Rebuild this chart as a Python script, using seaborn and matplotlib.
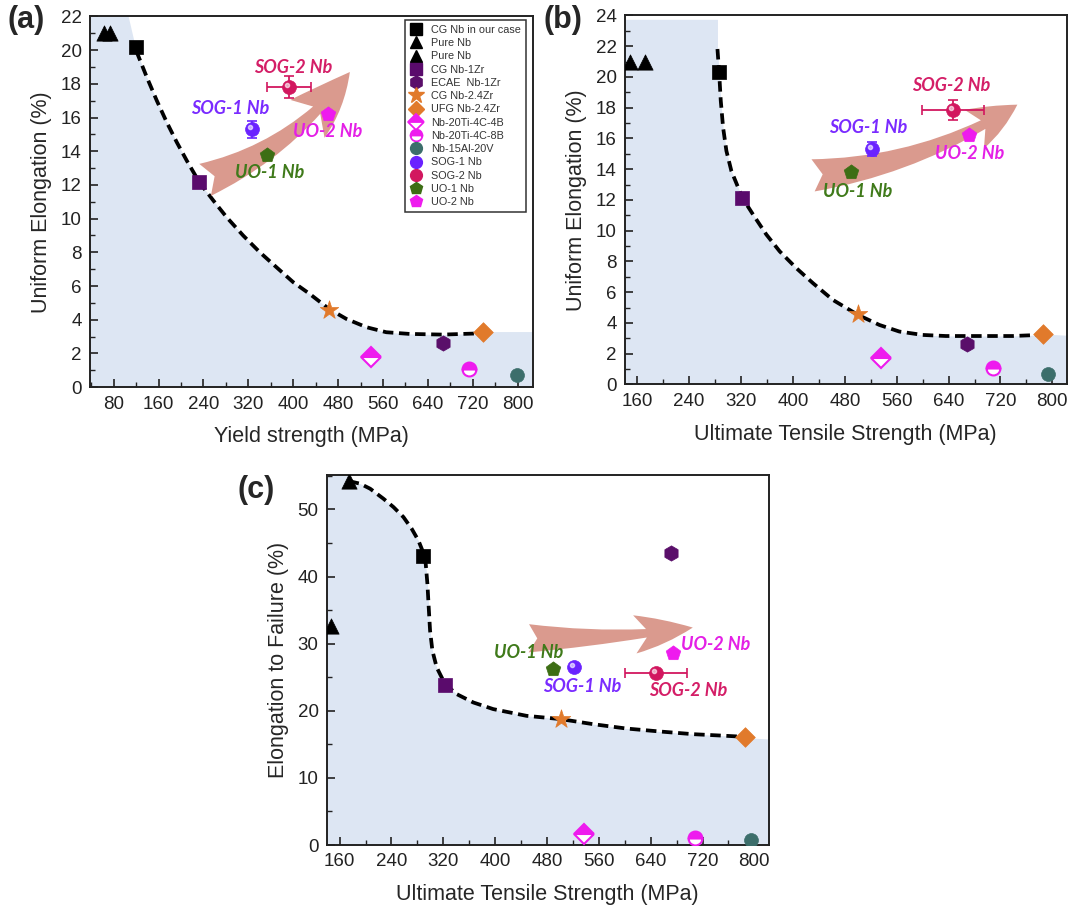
import numpy as np
import pandas as pd
import matplotlib
matplotlib.use("Agg")
import matplotlib.pyplot as plt
import seaborn as sns
from matplotlib.lines import Line2D
from matplotlib.ticker import MultipleLocator
from matplotlib.transforms import offset_copy

# ---------------------------------------------------------------- data
materials = ["CG Nb in our case", "Pure Nb", "Pure Nb", "CG Nb-1Zr", "ECAE  Nb-1Zr",
             "CG Nb-2.4Zr", "UFG Nb-2.4Zr", "Nb-20Ti-4C-4B", "Nb-20Ti-4C-8B",
             "Nb-15Al-20V", "SOG-1 Nb", "SOG-2 Nb", "UO-1 Nb", "UO-2 Nb"]

# (a) yield strength vs uniform elongation
ys_a = [120, 62, 74, 233, 667, 464, 739, 539, 713, 798, 326, 393, 353, 462]
ue_a = [20.2, 21.0, 21.0, 12.15, 2.6, 4.6, 3.3, 1.8, 1.1, 0.73, 15.3, 17.8, 13.8, 16.2]

# (b) ultimate tensile strength vs uniform elongation
uts_b = [286, 148, 172, 322, 669, 500, 785, 536, 708, 794, 522, 647, 490, 672]
ue_b = [20.3, 21.0, 21.0, 12.15, 2.6, 4.55, 3.3, 1.75, 1.05, 0.65, 15.3, 17.85, 13.8, 16.2]

# (c) ultimate tensile strength vs elongation to failure
uts_c = [288, 147, 174, 323, 672, 501, 785, 537, 709, 795, 522, 648, 489, 674]
ef_c = [43.0, 32.6, 54.2, 23.8, 43.5, 18.8, 16.1, 1.6, 1.1, 0.7, 26.5, 25.6, 26.2, 28.6]

# error bars of the SOG samples: (xerr, yerr)
err_a = {"SOG-1 Nb": (0, 0.5), "SOG-2 Nb": (39, 0.65)}
err_b = {"SOG-1 Nb": (0, 0.45), "SOG-2 Nb": (48, 0.65)}
err_c = {"SOG-2 Nb": (48, 0.0)}

# strength-ductility trade-off guide lines
trend_a_x = [120.3, 139.3, 157, 174.8, 192.6, 210.4, 232.9, 257.8, 281.5, 311.1, 340.7,
             370.4, 400, 429.6, 464, 494.8, 530.4, 565.9, 607.4, 666.7, 739]
trend_a_y = [19.96, 18.38, 17.0, 15.71, 14.53, 13.44, 12.15, 11.07, 10.08, 8.99, 8.0,
             7.11, 6.23, 5.53, 4.64, 4.05, 3.56, 3.26, 3.16, 3.12, 3.2]
trend_b_x = [283.6, 286.2, 288.7, 292.3, 297.4, 305.1, 322.0, 338.5, 359.0, 379.5, 405.1,
             430.8, 461.5, 500.0, 533.3, 564.1, 600, 635.9, 687.2, 738.5, 779.5]
trend_b_y = [21.82, 20.3, 18.45, 16.71, 15.19, 13.88, 12.14, 11.05, 9.75, 8.66, 7.57,
             6.59, 5.5, 4.53, 3.87, 3.44, 3.22, 3.15, 3.15, 3.15, 3.22]
trend_c_x = [173.9, 191.8, 207.2, 227.7, 243.1, 258.5, 271.3, 281.6, 287.8, 292.9, 295.5,
             297.5, 299.6, 303.2, 309.8, 322.7, 340.6, 366.3, 397.1, 448.4, 501.2, 551,
             602.3, 653.6, 704.9, 756.2, 785.5]
trend_c_y = [54.23, 53.83, 53.08, 51.59, 50.35, 48.86, 47.11, 45.37, 43.88, 41.89, 38.91,
             35.42, 31.94, 28.96, 26.47, 23.98, 22.49, 21.24, 20.25, 19.25, 18.76, 18.01,
             17.36, 16.92, 16.52, 16.27, 16.12]

# outer edges of the shaded "conventional" region beyond the guide lines
shade_a = dict(left=([38, 106], [22, 22]), right=([739, 827], [3.3, 3.3]))
shade_b = dict(left=([141, 283.6], [23.75, 23.75]), right=([779.5, 822], [3.3, 3.2]))
shade_c = dict(left=([140, 173.9], [55.1, 55.1]), right=([785.5, 822], [16.0, 15.8]))

# ---------------------------------------------------------------- styling
markers = ["s", "^", "^", "s", "h", "*", "D", "D", "o", "o", "o", "o", "p", "p"]
colors = ["#000000", "#000000", "#000000", "#5a0b6c", "#5a0f6a", "#e17a2b", "#e17a2b",
          "#ee1bee", "#ee1bee", "#3c6e6b", "#6a22ff", "#d2175f", "#3d6e14", "#ee1bee"]
msizes = [10, 11, 11, 10, 11, 14, 10, 10, 10, 10, 10, 10, 11, 11]
half_filled = {"Nb-20Ti-4C-4B", "Nb-20Ti-4C-8B"}
spheres = {"SOG-1 Nb", "SOG-2 Nb"}

label_colors = {"SOG-1 Nb": "#7a2bff", "SOG-2 Nb": "#d41e67",
                "UO-1 Nb": "#3f7a1a", "UO-2 Nb": "#e41fe6"}
label_pos_a = {"SOG-2 Nb": (400, 18.95), "SOG-1 Nb": (288.6, 16.56),
               "UO-2 Nb": (462, 15.2), "UO-1 Nb": (358.5, 12.75)}
label_pos_b = {"SOG-2 Nb": (643.6, 19.43), "SOG-1 Nb": (515.4, 16.71),
               "UO-2 Nb": (672.8, 15.01), "UO-1 Nb": (500, 12.58)}
label_pos_c = {"UO-1 Nb": (451, 28.7), "SOG-1 Nb": (534.6, 23.6),
               "UO-2 Nb": (740.8, 29.95), "SOG-2 Nb": (697.2, 23.0)}

SHADE = "#dde6f3"
ARROW = "#d4887a"

sns.set_theme(style="ticks")
plt.rcParams["font.family"] = ["Liberation Sans", "DejaVu Sans"]
plt.rcParams.update({
    "xtick.direction": "in", "ytick.direction": "in",
    "xtick.major.size": 6, "ytick.major.size": 6,
    "xtick.minor.size": 3.5, "ytick.minor.size": 3.5,
    "xtick.major.width": 1.2, "ytick.major.width": 1.2,
    "xtick.minor.width": 1.0, "ytick.minor.width": 1.0,
    "xtick.major.pad": 6, "ytick.major.pad": 6,
    "xtick.labelsize": 13.5, "ytick.labelsize": 13.5,
    "axes.linewidth": 1.4, "axes.edgecolor": "#222222",
    "xtick.color": "#222222", "ytick.color": "#222222",
})

fig = plt.figure(figsize=(10.72, 9.11), dpi=100)
ax_a = fig.add_axes([0.084, 0.575, 0.413, 0.407])
ax_b = fig.add_axes([0.583, 0.578, 0.412, 0.405])
ax_c = fig.add_axes([0.305, 0.0724, 0.412, 0.406])

LABEL_FONT = dict(family=["Lato", "DejaVu Sans"], weight="bold", style="italic", fontsize=13)


def draw_panel(ax, xs, ys, tx, ty, shade, errs, label_pos, arrow, xlim, ylim,
               ymajor, yminor, xlabel, ylabel):
    # shaded region below the trade-off line
    fx = shade["left"][0] + tx + shade["right"][0]
    fy = shade["left"][1] + ty + shade["right"][1]
    ax.fill_between(fx, 0, fy, color=SHADE, lw=0, zorder=0)

    trend = pd.DataFrame({"x": tx, "y": ty})
    sns.lineplot(data=trend, x="x", y="y", sort=False, ax=ax, color="black",
                 lw=2.7, zorder=2, estimator=None)
    ax.lines[-1].set_dashes((2.8, 1.5))

    # broad arrow showing the shift of the new samples
    (x0, y0), (x1, y1), rad, style, scale = arrow
    ax.annotate("", xy=(x1, y1), xytext=(x0, y0),
                arrowprops=dict(arrowstyle=style, connectionstyle=f"arc3,rad={rad}",
                                fc=ARROW, ec="none", alpha=0.85, mutation_scale=scale,
                                shrinkA=0, shrinkB=0), zorder=3)

    for name, x, y, m, c, s in zip(materials, xs, ys, markers, colors, msizes):
        if name in errs:
            xe, ye = errs[name]
            ax.errorbar(x, y, xerr=xe or None, yerr=ye or None, fmt="none",
                        ecolor=c, elinewidth=1.3, capsize=3.5, capthick=1.2, zorder=4)
        if name in half_filled:
            ax.plot(x, y, marker=m, ms=s, color=c, fillstyle="top",
                    markerfacecoloralt="white", mec=c, mew=1.5, zorder=5)
        else:
            sns.scatterplot(x=[x], y=[y], marker=m, color=c, s=s ** 2, ax=ax,
                            edgecolor=c, linewidth=0.5, zorder=5, legend=False)
        if name in spheres:
            ax.plot(x, y, "o", ms=3, color="white", alpha=0.6, zorder=6,
                    transform=offset_copy(ax.transData, fig=fig, x=-1.5, y=1.5,
                                          units="points"))

    for name, (lx, ly) in label_pos.items():
        ax.text(lx, ly, name, color=label_colors[name], ha="center", va="center",
                zorder=7, **LABEL_FONT)

    ax.set_xlim(*xlim)
    ax.set_ylim(*ylim)
    ax.xaxis.set_major_locator(MultipleLocator(80))
    ax.xaxis.set_minor_locator(MultipleLocator(40))
    ax.yaxis.set_major_locator(MultipleLocator(ymajor))
    ax.yaxis.set_minor_locator(MultipleLocator(yminor))
    ax.tick_params(which="both", top=False, right=False)
    ax.set_xlabel(xlabel, fontsize=15.5, labelpad=10)
    ax.set_ylabel(ylabel, fontsize=15.5, labelpad=6)
    for sp in ax.spines.values():
        sp.set_visible(True)


draw_panel(ax_a, ys_a, ue_a, trend_a_x, trend_a_y, shade_a, err_a, label_pos_a,
           ((243, 12.3), (501, 18.7), 0.15,
            "fancy,head_length=1.3,head_width=1.05,tail_width=0.7", 35),
           (38, 827), (0, 22), 2, 1, "Yield strength (MPa)", "Uniform Elongation (%)")
ax_a.set_xticks(np.arange(80, 801, 80))

draw_panel(ax_b, uts_b, ue_b, trend_b_x, trend_b_y, shade_b, err_b, label_pos_b,
           ((431, 13.6), (746, 18.2), 0.12,
            "fancy,head_length=1.15,head_width=1.0,tail_width=0.75", 31),
           (141, 822), (0, 24), 2, 1, "Ultimate Tensile Strength (MPa)",
           "Uniform Elongation (%)")

draw_panel(ax_c, uts_c, ef_c, trend_c_x, trend_c_y, shade_c, err_c, label_pos_c,
           ((452, 30.8), (705, 32.4), 0.04,
            "fancy,head_length=1.45,head_width=0.95,tail_width=0.7", 29),
           (140.5, 822), (0, 55.1), 10, 5, "Ultimate Tensile Strength (MPa)",
           "Elongation to Failure (%)")

# legend of panel (a)
handles = []
for name, m, c, s in zip(materials, markers, colors, msizes):
    kw = dict(fillstyle="top", markerfacecoloralt="white", mew=1.3) if name in half_filled else {}
    handles.append(Line2D([], [], ls="none", marker=m, color=c, mec=c,
                          ms=s * 0.85, **kw))
leg = ax_a.legend(handles, materials, loc="upper right", bbox_to_anchor=(0.984, 0.99),
                  fontsize=7.8, frameon=True, fancybox=False, edgecolor="#333333",
                  framealpha=1, labelspacing=0.3, handlelength=1.0, handletextpad=0.9,
                  borderpad=0.45, borderaxespad=0)
leg.get_frame().set_linewidth(1.1)
for t in leg.get_texts():
    t.set_color("#333333")

for txt, x, y in [("(a)", 0.007, 0.978), ("(b)", 0.507, 0.978), ("(c)", 0.222, 0.462)]:
    fig.text(x, y, txt, fontsize=22, fontweight="bold", va="center", ha="left")

fig.savefig("out.png", dpi=100)
